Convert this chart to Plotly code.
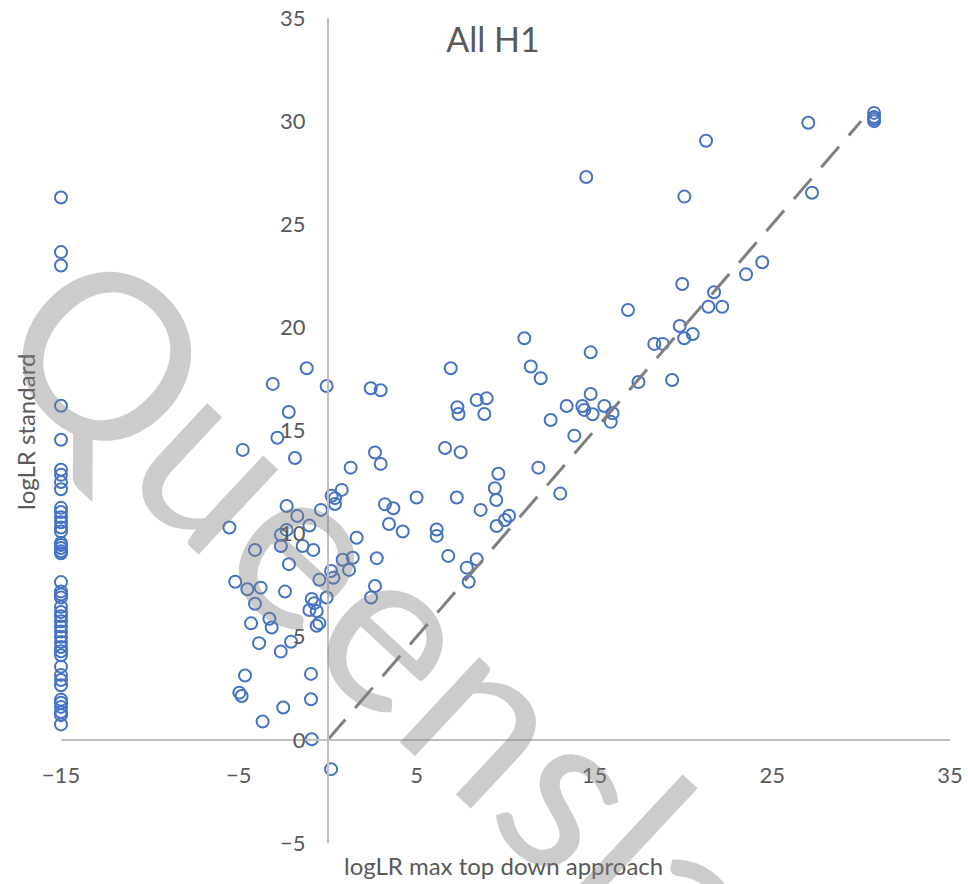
import plotly.graph_objects as go

# logLR of the top-down approach (x) against the standard logLR (y)
floor_y = [26.3, 23.65, 23.0, 16.2, 14.55, 13.1, 12.85, 12.5, 12.15, 11.25, 11.05,
           10.8, 10.55, 10.3, 10.1, 9.55, 9.45, 9.3, 9.15, 9.05, 7.65, 7.2, 7.05,
           6.9, 6.45, 6.2, 6.0, 5.75, 5.5, 5.25, 5.0, 4.75, 4.5, 4.3, 4.1, 3.55,
           3.15, 2.9, 2.65, 1.95, 1.8, 1.6, 1.35, 1.2, 0.75]
floor_x = [-15.0] * len(floor_y)

other_x = [-5.53, -5.2, -4.52, -3.77, -4.09, -4.31, -3.28, -3.15, -3.86, -2.64,
           -2.06, -4.65, -4.97, -4.84, -3.66, -2.5, -0.94, -0.94, -0.9, 0.19,
           -2.4, -2.18, -4.09, -2.63, -2.63, -2.31, -2.31, -1.71, -1.41, -0.81,
           -1.03, -0.38, -0.47, -0.06, -0.9, -0.75, -1.03, -0.62, -0.47, -0.62,
           -1.18, -3.09, -0.06, -2.19, -2.83, -4.78, -1.84, 1.29, 2.66, 2.98,
           2.42, 2.98, 0.79, 0.22, 0.41, 0.41, 1.63, 0.84, 1.41, 1.2,
           0.19, 0.32, 2.44, 2.66, 2.76, 3.22, 3.69, 3.45, 4.22, 5.0,
           6.13, 6.13, 6.6, 7.48, 6.92, 7.29, 7.36, 8.38, 8.94, 8.81,
           7.26, 8.6, 9.4, 9.6, 9.48, 9.5, 9.97, 10.2, 6.78, 7.82,
           8.38, 7.93, 11.06, 11.42, 11.98, 11.85, 13.08, 12.54, 13.87, 13.44,
           14.32, 14.43, 14.9, 14.79, 14.79, 15.56, 16.02, 15.92, 14.54, 16.89,
           17.48, 18.37, 18.84, 19.37, 19.8, 20.53, 20.05, 19.94, 21.73, 21.41,
           22.19, 23.53, 24.44, 20.06, 21.28, 27.03, 27.24, 30.73, 30.73, 30.73,
           30.73]
other_y = [10.3, 7.67, 7.3, 7.38, 6.6, 5.65, 5.87, 5.45, 4.69, 4.28,
           4.76, 3.12, 2.29, 2.13, 0.89, 1.57, 3.2, 1.97, 0.03, -1.42,
           7.19, 8.52, 9.21, 9.4, 9.94, 10.18, 11.34, 10.86, 9.4, 9.21,
           10.39, 11.15, 7.76, 6.9, 6.83, 6.63, 6.3, 6.25, 5.66, 5.53,
           18.02, 17.26, 17.16, 15.9, 14.65, 14.06, 13.67, 13.2, 13.93, 13.38,
           17.05, 16.95, 12.12, 11.84, 11.72, 11.44, 9.8, 8.73, 8.83, 8.24,
           8.19, 7.86, 6.9, 7.46, 8.81, 11.42, 11.23, 10.47, 10.1, 11.75,
           10.2, 9.89, 14.15, 13.95, 18.02, 16.13, 15.8, 16.48, 16.56, 15.8,
           11.75, 11.15, 12.2, 12.9, 11.63, 10.37, 10.66, 10.87, 8.92, 8.35,
           8.76, 7.67, 19.47, 18.1, 17.53, 13.2, 11.94, 15.51, 14.75, 16.19,
           16.19, 16.0, 15.79, 16.77, 18.79, 16.19, 15.84, 15.42, 27.29, 20.84,
           17.35, 19.2, 19.2, 17.45, 20.07, 19.68, 19.47, 22.1, 21.7, 21.0,
           21.0, 22.57, 23.16, 26.34, 29.05, 29.92, 26.53, 30.4, 30.2, 30.1,
           30.0]

# y = x reference line
ref_x = [0, 30]
ref_y = [0, 30]

x_range = [-15, 35]
y_range = [-5, 35]
x_ticks = [-15, -5, 5, 15, 25, 35]
y_ticks = [-5, 0, 5, 10, 15, 20, 25, 30, 35]

points_x = floor_x + other_x
points_y = floor_y + other_y

BLUE = "#4472C4"
GREY_TXT = "#595959"
AXIS = "#BFBFBF"
FONT = "Lato"

fig = go.Figure()
fig.add_trace(go.Scatter(
    x=points_x, y=points_y, mode="markers",
    marker=dict(symbol="circle-open", size=12, color=BLUE,
                line=dict(color=BLUE, width=2)),
    cliponaxis=False, showlegend=False, hoverinfo="x+y"))
fig.add_trace(go.Scatter(
    x=ref_x, y=ref_y, mode="lines",
    line=dict(color="#7F7F7F", width=3, dash="27px,15px"),
    showlegend=False, hoverinfo="skip"))

# axes cross at the origin
x_cross = (0 - y_range[0]) / (y_range[1] - y_range[0])
y_cross = (0 - x_range[0]) / (x_range[1] - x_range[0])

fig.update_layout(
    width=968, height=884,
    margin=dict(l=61, r=18, t=18, b=41),
    plot_bgcolor="white", paper_bgcolor="white",
    font=dict(family=FONT, color=GREY_TXT),
    xaxis=dict(range=x_range, domain=[0, 1], anchor="free", position=x_cross,
               tickvals=x_ticks, showgrid=False, zeroline=False, automargin=False,
               showline=True, linecolor=AXIS, linewidth=1.5,
               ticks="", ticklabelstandoff=16,
               tickfont=dict(family=FONT, size=22, color=GREY_TXT)),
    yaxis=dict(range=y_range, domain=[0, 1], anchor="free", position=y_cross,
               tickvals=y_ticks, showgrid=False, zeroline=False, automargin=False,
               showline=True, linecolor=AXIS, linewidth=1.5,
               ticks="", ticklabelstandoff=17,
               tickfont=dict(family=FONT, size=22, color=GREY_TXT)),
    title=dict(text="All H1", x=493 / 968, xanchor="center",
               y=1 - 40 / 884, yanchor="middle", yref="container",
               font=dict(family=FONT, size=34, color=GREY_TXT)),
)

fig.add_annotation(text="logLR standard", xref="paper", yref="paper",
                   x=(25 - 61) / 889, y=(843 - 432) / 825, textangle=-90,
                   xanchor="center", yanchor="middle",
                   showarrow=False, font=dict(family=FONT, size=24, color=GREY_TXT))
fig.add_annotation(text="logLR max top down approach", xref="paper", yref="paper",
                   x=(503 - 61) / 889, y=(843 - 865) / 825,
                   xanchor="center", yanchor="middle",
                   showarrow=False, font=dict(family=FONT, size=24, color=GREY_TXT))

# watermark
fig.add_annotation(text="Queensland", xref="paper", yref="paper",
                   x=(485 - 61) / 889, y=(843 - 700) / 825, textangle=43,
                   xanchor="center", yanchor="middle",
                   showarrow=False,
                   font=dict(family=FONT, size=230, color="rgba(128,128,128,0.4)"))

fig.write_html("out.html")
